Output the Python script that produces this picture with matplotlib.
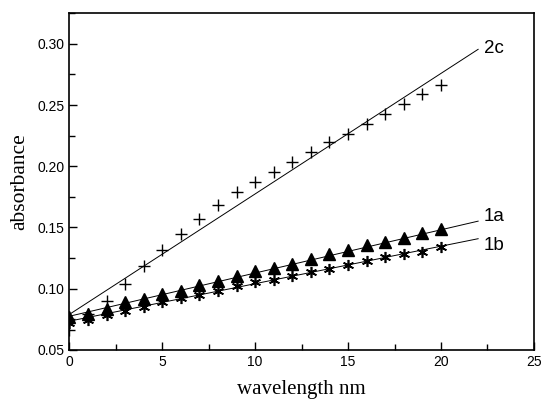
import numpy as np
import matplotlib
matplotlib.use("Agg")
import matplotlib.pyplot as plt
from matplotlib.ticker import MultipleLocator

# measured points
x = list(range(21))
abs_2c = [0.066, 0.079, 0.090, 0.1035, 0.1185, 0.132, 0.1446, 0.157, 0.1687,
          0.1786, 0.1868, 0.1956, 0.2035, 0.2118, 0.220, 0.2266, 0.2348,
          0.2427, 0.2507, 0.2586, 0.2662]
abs_1a = [0.0766, 0.079, 0.0835, 0.0889, 0.0914, 0.0958, 0.0985, 0.1032,
          0.1062, 0.110, 0.1141, 0.1172, 0.1205, 0.1246, 0.1281, 0.1312,
          0.1355, 0.1382, 0.1415, 0.1451, 0.1484]
abs_1b = [0.0716, 0.0744, 0.0782, 0.0821, 0.0848, 0.0892, 0.0922, 0.0952,
          0.0985, 0.1024, 0.1053, 0.1073, 0.110, 0.1133, 0.1158, 0.1191,
          0.1226, 0.1259, 0.1287, 0.1303, 0.1341]

# linear fits (intercept, slope) drawn from 0 to 22
fit_2c = (0.079, 0.00984)
fit_1a = (0.0775, 0.00353)
fit_1b = (0.0735, 0.00306)
fit_x = np.array([0, 22])

fig = plt.figure(figsize=(5.42, 3.99), dpi=100)
ax = fig.add_axes([0.128, 0.123, 0.857, 0.844])

for (b, m) in (fit_2c, fit_1a, fit_1b):
    ax.plot(fit_x, b + m * fit_x, color='black', lw=0.7)

ax.plot(x, abs_2c, ls='none', marker='+', ms=9, mew=1.0, color='black')
ax.plot(x, abs_1a, ls='none', marker='^', ms=8, color='black')
ax.plot(x, abs_1b, ls='none', marker=(6, 2, 0), ms=8, mew=1.2, color='black')

ax.text(22.3, 0.2965, "2c", fontsize=13.5, family='Liberation Sans', va='center')
ax.text(22.3, 0.159, "1a", fontsize=13.5, family='Liberation Sans', va='center')
ax.text(22.3, 0.1354, "1b", fontsize=13.5, family='Liberation Sans', va='center')

ax.set_xlim(0, 25)
ax.set_ylim(0.05, 0.325)
ax.xaxis.set_major_locator(MultipleLocator(5))
ax.xaxis.set_minor_locator(MultipleLocator(2.5))
ax.yaxis.set_major_locator(MultipleLocator(0.05))
ax.yaxis.set_minor_locator(MultipleLocator(0.025))
ax.yaxis.set_major_formatter(matplotlib.ticker.FormatStrFormatter('%.2f'))
ax.tick_params(which='both', direction='in', top=False, right=False)
ax.tick_params(which='major', length=6, width=1.0, labelsize=10)
ax.tick_params(which='minor', length=4, width=1.0)
for lbl in ax.get_xticklabels() + ax.get_yticklabels():
    lbl.set_family('Liberation Sans')
for s in ax.spines.values():
    s.set_linewidth(1.2)

ax.set_xlabel("wavelength nm", family='Liberation Serif', fontsize=15, labelpad=8)
ax.set_ylabel("absorbance", family='Liberation Serif', fontsize=15.5, labelpad=6)

fig.savefig("out.png", dpi=100)
